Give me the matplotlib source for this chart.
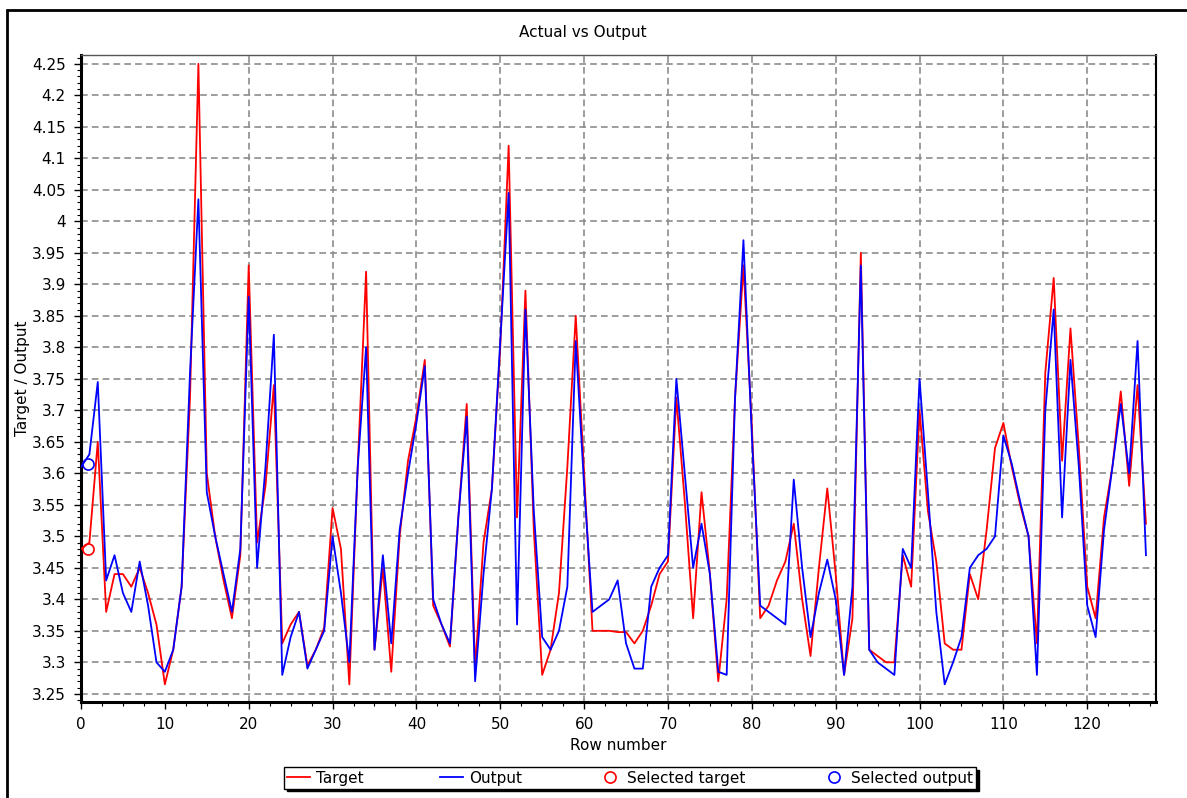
import numpy as np
import matplotlib
matplotlib.use("Agg")
import matplotlib.pyplot as plt
from matplotlib.patches import Rectangle
from matplotlib.ticker import MultipleLocator, FuncFormatter

# 数据: 行号 0..127
target = [3.48, 3.49, 3.65, 3.38, 3.44, 3.44, 3.42, 3.45, 3.41, 3.36,
          3.265, 3.32, 3.42, 3.72, 4.25, 3.60, 3.50, 3.43, 3.37, 3.47,
          3.93, 3.49, 3.58, 3.74, 3.33, 3.36, 3.38, 3.295, 3.32, 3.355,
          3.545, 3.48, 3.265, 3.61, 3.92, 3.32, 3.45, 3.285, 3.50, 3.62,
          3.69, 3.78, 3.39, 3.36, 3.325, 3.53, 3.71, 3.29, 3.49, 3.575,
          3.80, 4.12, 3.53, 3.89, 3.51, 3.28, 3.32, 3.41, 3.61, 3.85,
          3.60, 3.35, 3.35, 3.35, 3.348, 3.348, 3.33, 3.35, 3.39, 3.44,
          3.46, 3.72, 3.556, 3.37, 3.57, 3.44, 3.27, 3.40, 3.72, 3.93,
          3.675, 3.37, 3.39, 3.43, 3.46, 3.52, 3.40, 3.31, 3.45, 3.576,
          3.44, 3.28, 3.37, 3.95, 3.32, 3.31, 3.30, 3.30, 3.47, 3.42,
          3.70, 3.54, 3.46, 3.33, 3.32, 3.32, 3.44, 3.40, 3.51, 3.64,
          3.68, 3.61, 3.55, 3.50, 3.33, 3.76, 3.91, 3.62, 3.83, 3.64,
          3.42, 3.37, 3.53, 3.61, 3.73, 3.58, 3.74, 3.52]

output = [3.61, 3.63, 3.745, 3.43, 3.47, 3.41, 3.38, 3.46, 3.39, 3.30,
          3.285, 3.32, 3.42, 3.76, 4.035, 3.57, 3.50, 3.44, 3.38, 3.48,
          3.88, 3.45, 3.61, 3.82, 3.28, 3.34, 3.38, 3.29, 3.32, 3.35,
          3.50, 3.41, 3.30, 3.61, 3.80, 3.32, 3.47, 3.33, 3.51, 3.60,
          3.68, 3.77, 3.40, 3.36, 3.33, 3.53, 3.69, 3.27, 3.44, 3.575,
          3.81, 4.045, 3.36, 3.86, 3.54, 3.34, 3.32, 3.35, 3.42, 3.81,
          3.58, 3.38, 3.39, 3.40, 3.43, 3.33, 3.29, 3.29, 3.42, 3.45,
          3.47, 3.75, 3.60, 3.45, 3.52, 3.44, 3.285, 3.28, 3.72, 3.97,
          3.66, 3.39, 3.38, 3.37, 3.36, 3.59, 3.45, 3.34, 3.41, 3.463,
          3.40, 3.28, 3.42, 3.93, 3.32, 3.30, 3.29, 3.28, 3.48, 3.45,
          3.75, 3.57, 3.38, 3.265, 3.30, 3.34, 3.45, 3.47, 3.48, 3.50,
          3.66, 3.615, 3.555, 3.50, 3.28, 3.70, 3.86, 3.53, 3.78, 3.61,
          3.39, 3.34, 3.51, 3.61, 3.71, 3.60, 3.81, 3.47]

rows = np.arange(len(target))

# 选中的点
sel_rows = [0.85]
sel_target = [3.48]
sel_output = [3.615]

fig = plt.figure(figsize=(11.87, 7.98), dpi=100)
ax = fig.add_axes([81 / 1187, 1 - 702 / 798, (1156 - 81) / 1187, (702 - 55) / 798])

# 外框
fig.add_artist(Rectangle((7 / 1187, -0.05), 1.2, 1.05 - 10 / 798, transform=fig.transFigure,
                         fill=False, lw=2, edgecolor='black', clip_on=False))

ax.plot(rows, target, color='#ff0000', lw=1.3, label='Target', zorder=3)
ax.plot(rows, output, color='#0000ff', lw=1.3, label='Output', zorder=4)
ax.plot(sel_rows, sel_target, 'o', mfc='none', mec='#ff0000', ms=8, mew=1.2,
        label='Selected target', zorder=5)
ax.plot(sel_rows, sel_output, 'o', mfc='none', mec='#0000ff', ms=8, mew=1.2,
        label='Selected output', zorder=5)

ax.set_xlim(0, 128.2)
ax.set_ylim(3.237, 4.264)
ax.xaxis.set_major_locator(MultipleLocator(10))
ax.xaxis.set_minor_locator(MultipleLocator(2.5))
ax.yaxis.set_major_locator(MultipleLocator(0.05))
ax.yaxis.set_minor_locator(MultipleLocator(0.01))
ax.yaxis.set_major_formatter(FuncFormatter(lambda v, p: f"{v:.2f}".rstrip('0').rstrip('.')))
ax.set_xticks(np.arange(0, 121, 10))

ax.tick_params(axis='both', which='major', direction='out', length=5, width=1,
               labelsize=11, pad=6)
ax.tick_params(axis='both', which='minor', direction='out', length=3, width=0.8)

ax.grid(True, which='major', color='#8c8c8c', linestyle=(0, (4, 2.5)), lw=1.2)
# 参考图中 x=10 处没有网格线
ax.xaxis.get_gridlines()[1].set_visible(False)

ax.spines['left'].set_linewidth(2.2)
ax.spines['bottom'].set_linewidth(2.2)
ax.spines['top'].set_linewidth(1)
ax.spines['top'].set_color('#555555')
ax.spines['right'].set_linewidth(1.5)

ax.set_xlabel('Row number', fontsize=11, labelpad=4)
ax.set_ylabel('Target / Output', fontsize=11, labelpad=1)
fig.text(583 / 1187, 1 - 32 / 798, 'Actual vs Output', ha='center', va='center', fontsize=11)

fig.legend(loc='center', bbox_to_anchor=(630 / 1187, 1 - 778 / 798), ncol=4,
           fontsize=11, frameon=True, fancybox=False, edgecolor='black',
           shadow={'color': 'black', 'alpha': 1}, handlelength=1.5, handletextpad=0.4,
           columnspacing=5.0, borderpad=0.2, framealpha=1)

fig.savefig('out.png', dpi=100)
